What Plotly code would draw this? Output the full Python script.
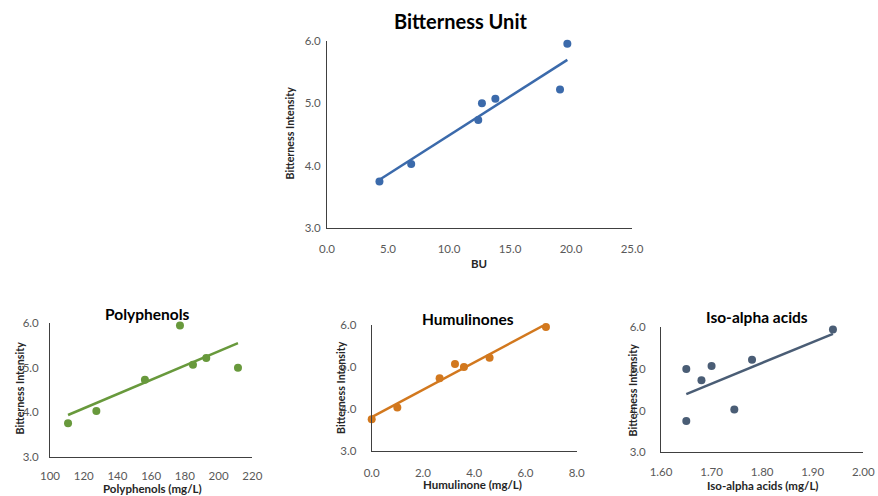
import numpy as np
import plotly.graph_objects as go

# Bitterness intensity of the seven beers (same order in every panel)
intensity = [3.75, 4.03, 4.73, 5.00, 5.07, 5.22, 5.95]

# Measured analytes for the same seven beers
bu = [4.3, 6.9, 12.4, 12.7, 13.8, 19.1, 19.7]
polyphenols = [110.7, 127.5, 156.3, 211.5, 184.8, 192.7, 177.1]
humulinone = [0.0, 1.0, 2.65, 3.6, 3.25, 4.6, 6.8]
iso_alpha = [1.65, 1.745, 1.68, 1.65, 1.70, 1.78, 1.94]

W, H = 878, 496
FONT = "Lato"
TICK_COLOR = "#595959"
AXIS_COLOR = "#404040"

panels = [
    dict(x=bu, title="Bitterness Unit", xtitle="BU", color="#3b6aab",
         xr=[0, 25], dx=5, fmt=".1f", box=(327, 632, 40.7, 228.3),
         title_pos=(460, 20.7, 20), xt_pos=(479, 263), yt_pos=(289.5, 133),
         ystand=3, xstand=10),
    dict(x=polyphenols, title="Polyphenols", xtitle="Polyphenols (mg/L)", color="#68993c",
         xr=[100, 220], dx=20, fmt="d", box=(50, 252.3, 323.3, 456.7),
         title_pos=(147, 313.5, 15.5), xt_pos=(152, 488), yt_pos=(18.5, 388),
         ystand=8, xstand=8),
    dict(x=humulinone, title="Humulinones", xtitle="Humulinone (mg/L)", color="#d2781e",
         xr=[0, 8], dx=2, fmt=".1f", box=(371.7, 576.7, 325, 450.7),
         title_pos=(468, 319, 15.5), xt_pos=(473, 484.5), yt_pos=(340, 388),
         ystand=12, xstand=11),
    dict(x=iso_alpha, title="Iso-alpha acids", xtitle="Iso-alpha acids (mg/L)", color="#4a5d75",
         xr=[1.6, 2.0], dx=0.1, fmt=".2f", box=(661, 863.3, 327.3, 452.3),
         title_pos=(757, 316.5, 15.5), xt_pos=(763, 485), yt_pos=(631.5, 390),
         ystand=12, xstand=9),
]

fig = go.Figure()
annotations = []
layout_axes = {}

for i, p in enumerate(panels, start=1):
    xa = "x" if i == 1 else f"x{i}"
    ya = "y" if i == 1 else f"y{i}"
    xkey = "xaxis" if i == 1 else f"xaxis{i}"
    ykey = "yaxis" if i == 1 else f"yaxis{i}"

    x0, x1, y0, y1 = p["box"]
    xs = np.array(p["x"], dtype=float)
    ys = np.array(intensity, dtype=float)

    # least-squares linear trend line across the data range
    slope, icpt = np.polyfit(xs, ys, 1)
    tx = np.array([xs.min(), xs.max()])
    fig.add_trace(go.Scatter(x=tx, y=slope * tx + icpt, mode="lines",
                             line=dict(color=p["color"], width=2.5),
                             xaxis=xa, yaxis=ya, showlegend=False, hoverinfo="skip"))
    fig.add_trace(go.Scatter(x=xs, y=ys, mode="markers",
                             marker=dict(color=p["color"], size=8),
                             xaxis=xa, yaxis=ya, showlegend=False, cliponaxis=False))

    lo, hi = p["xr"]
    ticks = np.round(np.arange(lo, hi + p["dx"] / 2, p["dx"]), 3)
    layout_axes[xkey] = dict(
        domain=[x0 / W, x1 / W], anchor=ya, range=[lo, hi], automargin=False,
        tickvals=ticks, tickformat=p["fmt"], showgrid=False, zeroline=False,
        showline=True, linecolor=AXIS_COLOR, linewidth=1, ticks="",
        tickfont=dict(family=FONT, size=11.5, color=TICK_COLOR),
        ticklabelstandoff=p["xstand"],
    )
    layout_axes[ykey] = dict(
        domain=[1 - y1 / H, 1 - y0 / H], anchor=xa, range=[3, 6], automargin=False,
        tickvals=[3, 4, 5, 6], tickformat=".1f", showgrid=False, zeroline=False,
        showline=True, linecolor=AXIS_COLOR, linewidth=1, ticks="",
        tickfont=dict(family=FONT, size=11.5, color=TICK_COLOR),
        ticklabelstandoff=p["ystand"],
    )

    tx_, ty_, ts_ = p["title_pos"]
    annotations.append(dict(text=f"<b>{p['title']}</b>", x=tx_ / W, y=1 - ty_ / H,
                            xref="paper", yref="paper", showarrow=False,
                            xanchor="center", yanchor="middle",
                            font=dict(family=FONT, size=ts_, color="#000000")))
    ax_, ay_ = p["xt_pos"]
    annotations.append(dict(text=f"<b>{p['xtitle']}</b>", x=ax_ / W, y=1 - ay_ / H,
                            xref="paper", yref="paper", showarrow=False,
                            xanchor="center", yanchor="middle",
                            font=dict(family=FONT, size=11.5, color="#262626")))
    bx_, by_ = p["yt_pos"]
    annotations.append(dict(text="<b>Bitterness Intensity</b>", x=bx_ / W, y=1 - by_ / H,
                            xref="paper", yref="paper", showarrow=False, textangle=-90,
                            xanchor="center", yanchor="middle",
                            font=dict(family=FONT, size=10.7, color="#262626")))

fig.update_layout(
    width=W, height=H, margin=dict(l=0, r=0, t=0, b=0, pad=0), autosize=False,
    paper_bgcolor="white", plot_bgcolor="white",
    showlegend=False, annotations=annotations, **layout_axes,
)

fig.write_html("out.html")
